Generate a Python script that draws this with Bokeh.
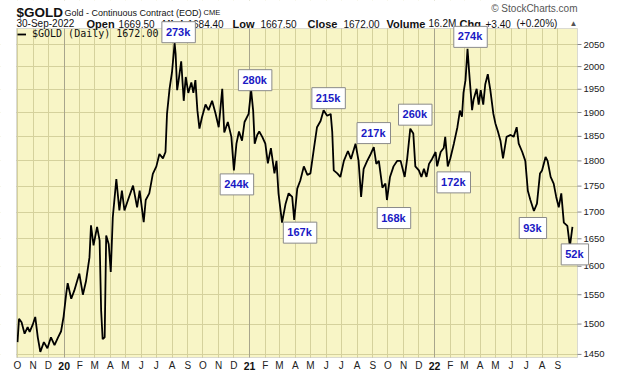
import math
import pandas as pd
from bokeh.plotting import figure
from bokeh.models import (Range1d, FixedTicker, Label, LabelSet, ColumnDataSource, Grid, BoxAnnotation)
from bokeh.core.properties import value
from bokeh.embed import file_html
from bokeh.resources import INLINE

# ---------------- data ----------------
dates = [
    "2019-10-01", "2019-10-04", "2019-10-09", "2019-10-15", "2019-10-21", "2019-10-25", "2019-10-31",
    "2019-11-05", "2019-11-10", "2019-11-15", "2019-11-22", "2019-11-29", "2019-12-06", "2019-12-13",
    "2019-12-20", "2019-12-26", "2019-12-31", "2020-01-05", "2020-01-08", "2020-01-15", "2020-01-21",
    "2020-01-31", "2020-02-07", "2020-02-13", "2020-02-20", "2020-02-23", "2020-02-28", "2020-03-06",
    "2020-03-11", "2020-03-14", "2020-03-17", "2020-03-21", "2020-03-24", "2020-03-29", "2020-04-02",
    "2020-04-06", "2020-04-13", "2020-04-19", "2020-04-24", "2020-04-29", "2020-05-06", "2020-05-16",
    "2020-05-24", "2020-05-29", "2020-06-06", "2020-06-10", "2020-06-17", "2020-06-24", "2020-07-01",
    "2020-07-07", "2020-07-14", "2020-07-19", "2020-07-22", "2020-07-27", "2020-08-01", "2020-08-06",
    "2020-08-08", "2020-08-11", "2020-08-14", "2020-08-19", "2020-08-24", "2020-08-28", "2020-09-02",
    "2020-09-08", "2020-09-12", "2020-09-16", "2020-09-20", "2020-09-24", "2020-09-29", "2020-10-06",
    "2020-10-12", "2020-10-19", "2020-10-26", "2020-11-01", "2020-11-08", "2020-11-12", "2020-11-19",
    "2020-11-26", "2020-12-01", "2020-12-06", "2020-12-11", "2020-12-17", "2020-12-22", "2020-12-30",
    "2021-01-04", "2021-01-08", "2021-01-11", "2021-01-16", "2021-01-20", "2021-01-26", "2021-02-01",
    "2021-02-06", "2021-02-12", "2021-02-19", "2021-02-23", "2021-02-27", "2021-03-06", "2021-03-13",
    "2021-03-19", "2021-03-26", "2021-03-30", "2021-04-05", "2021-04-11", "2021-04-18", "2021-04-25",
    "2021-05-01", "2021-05-08", "2021-05-14", "2021-05-21", "2021-05-27", "2021-06-03", "2021-06-10",
    "2021-06-13", "2021-06-16", "2021-06-23", "2021-06-29", "2021-07-06", "2021-07-14", "2021-07-20",
    "2021-07-29", "2021-08-04", "2021-08-09", "2021-08-14", "2021-08-21", "2021-08-28", "2021-09-03",
    "2021-09-08", "2021-09-13", "2021-09-20", "2021-09-26", "2021-09-29", "2021-10-05", "2021-10-12",
    "2021-10-19", "2021-10-26", "2021-11-03", "2021-11-08", "2021-11-14", "2021-11-20", "2021-11-24",
    "2021-12-01", "2021-12-06", "2021-12-11", "2021-12-16", "2021-12-21", "2021-12-27", "2022-01-03",
    "2022-01-06", "2022-01-13", "2022-01-19", "2022-01-22", "2022-01-27", "2022-02-01", "2022-02-08",
    "2022-02-15", "2022-02-20", "2022-02-24", "2022-02-27", "2022-03-03", "2022-03-07", "2022-03-10",
    "2022-03-16", "2022-03-19", "2022-03-25", "2022-03-29", "2022-04-02", "2022-04-07", "2022-04-11",
    "2022-04-16", "2022-04-21", "2022-04-27", "2022-05-01", "2022-05-06", "2022-05-11", "2022-05-16",
    "2022-05-23", "2022-05-31", "2022-06-06", "2022-06-12", "2022-06-16", "2022-06-23", "2022-06-29",
    "2022-07-04", "2022-07-09", "2022-07-16", "2022-07-22", "2022-07-28", "2022-08-01", "2022-08-08",
    "2022-08-12", "2022-08-18", "2022-08-24", "2022-08-29", "2022-09-03", "2022-09-08", "2022-09-13",
    "2022-09-20", "2022-09-25", "2022-09-30",
]
close = [
    1470, 1509, 1503, 1484, 1495, 1487, 1499,
    1512, 1478, 1454, 1470, 1460, 1478, 1465,
    1478, 1488, 1513, 1551, 1570, 1543, 1557,
    1587, 1550, 1573, 1616, 1675, 1638, 1672,
    1647, 1523, 1475, 1478, 1656, 1640, 1590,
    1690, 1764, 1703, 1741, 1703, 1723, 1751,
    1709, 1741, 1681, 1723, 1736, 1774, 1789,
    1814, 1805, 1818, 1897, 1951, 1989, 2053,
    2029, 1948, 1970, 2012, 1925, 1977, 1942,
    1965, 1942, 1970, 1904, 1866, 1890, 1917,
    1905, 1925, 1897, 1869, 1951, 1858, 1880,
    1849, 1781, 1835, 1860, 1841, 1880, 1897,
    1948, 1904, 1835, 1853, 1860, 1849, 1835,
    1795, 1826, 1775, 1800, 1736, 1680, 1716,
    1736, 1729, 1685, 1745, 1761, 1789, 1772,
    1775, 1826, 1869, 1882, 1905, 1893, 1897,
    1860, 1781, 1775, 1768, 1800, 1820, 1804,
    1835, 1800, 1729, 1784, 1800, 1814, 1828,
    1794, 1800, 1747, 1755, 1723, 1768, 1789,
    1800, 1800, 1768, 1805, 1866, 1856, 1789,
    1781, 1768, 1784, 1768, 1794, 1804, 1818,
    1789, 1818, 1826, 1849, 1789, 1805, 1835,
    1869, 1904, 1891, 1942, 1970, 2040, 1991,
    1905, 1928, 1951, 1917, 1948, 1917, 1961,
    1983, 1948, 1897, 1877, 1860, 1841, 1805,
    1849, 1853, 1849, 1869, 1835, 1818, 1800,
    1741, 1723, 1702, 1716, 1775, 1781, 1808,
    1800, 1768, 1755, 1729, 1709, 1736, 1680,
    1674, 1636, 1672,
]

# volume annotations at swing highs / lows
vol_dates = ["2020-08-06", "2021-01-04", "2020-12-01", "2021-05-27", "2021-03-06", "2021-09-03",
             "2021-11-14", "2021-09-29", "2022-01-27", "2022-03-07", "2022-07-16", "2022-09-25"]
vol_prices = [2053, 1948, 1781, 1905, 1680, 1828, 1866, 1723, 1789, 2040, 1702, 1636]
vol_texts = ["273k", "280k", "244k", "215k", "167k", "217k", "260k", "168k", "172k", "274k", "93k", "52k"]

# header texts
symbol = "$GOLD"
title_text = "Gold - Continuous Contract (EOD)"
exchange = "CME"
last_date = "30-Sep-2022"
quote_fields = ["Open", "High", "Low", "Close", "Volume", "Chg"]
quote_values = ["1669.50", "1684.40", "1667.50", "1672.00", "16.2M", "+3.40 (+0.20%)"]
y_ticks = [1450, 1500, 1550, 1600, 1650, 1700, 1750, 1800, 1850, 1900, 1950, 2000, 2050]

# ---------------- styling / layout (not data) ----------------
W, H = 620, 376
AREA_L, AREA_R, AREA_T, AREA_B = 16, 577, 28, 357      # price panel in canvas pixels
AREA_X0, AREA_X1 = pd.Timestamp("2019-09-29"), pd.Timestamp("2022-10-10")
AREA_Y0, AREA_Y1 = 1445.0, 2087.0
BG = "#f8f5c6"
GRID = "#d5d19c"
YEAR_GRID = "#a8a58c"
BOX_TEXT = "#1a1ac4"
TXT = "#111111"
# box centre offsets (px, right / down) relative to the annotated point
vol_offsets = [(4, -11), (4, -10), (3, 14), (5, -12), (18, 10), (0, -14),
               (5, -14), (7, 18), (6, 16), (3, -12), (-1, 17), (5, 8)]
ROW1, ROW2, COPY_Y = 12, 23, 8          # text baselines (canvas px, empirically aligned)
quote_field_x = [86, 162, 232, 307, 386, 459]
quote_value_x = [118, 187, 260, 343, 428, 485]
chg_pct_x = 516


def ms(t):
    return pd.Timestamp(t).value / 1e6


# extend the ranges so that the price panel lands on its pixel box while the frame fills the canvas
ms_per_px = (ms(AREA_X1) - ms(AREA_X0)) / (AREA_R - AREA_L)
x_start = ms(AREA_X0) - AREA_L * ms_per_px
x_end = ms(AREA_X1) + (W - AREA_R) * ms_per_px
k = math.log(AREA_Y1 / AREA_Y0) / (AREA_B - AREA_T)
y_lo = AREA_Y0 * math.exp(-(H - AREA_B) * k)
y_hi = AREA_Y1 * math.exp(AREA_T * k)

df = pd.DataFrame({"date": pd.to_datetime(dates), "close": close})
src = ColumnDataSource(df)

p = figure(width=W, height=H, title=None, x_axis_type="datetime", y_axis_type="log",
           x_axis_location=None, y_axis_location=None,
           x_range=Range1d(x_start, x_end), y_range=Range1d(y_lo, y_hi),
           output_backend="svg", toolbar_location=None, min_border=0,
           background_fill_color="white", border_fill_color="white", outline_line_color=None)
p.xgrid.visible = False
p.ygrid.visible = False

month_starts = pd.date_range(df["date"].min().normalize().replace(day=1), df["date"].max(), freq="MS")
month_ms = [ms(t) for t in month_starts]
year_starts = [t for t in month_starts if t.month == 1]
year_ms = [ms(t) for t in year_starts]
other_months = [t for t in month_starts if t.month != 1]

# price panel background
p.add_layout(BoxAnnotation(left=ms(AREA_X0), right=ms(AREA_X1), bottom=AREA_Y0, top=AREA_Y1,
                           fill_color=BG, fill_alpha=1, line_color=None, level="image"))
# grids
p.add_layout(Grid(dimension=0, ticker=FixedTicker(ticks=month_ms), grid_line_color=GRID))
p.add_layout(Grid(dimension=1, ticker=FixedTicker(ticks=y_ticks), grid_line_color=GRID))
p.add_layout(Grid(dimension=0, ticker=FixedTicker(ticks=year_ms), grid_line_color=YEAR_GRID))
# white masks so the grid stays inside the price panel
mask = dict(fill_color="white", fill_alpha=1, line_color=None, level="glyph")
p.add_layout(BoxAnnotation(bottom=AREA_Y1, **mask))
p.add_layout(BoxAnnotation(top=AREA_Y0, **mask))
p.add_layout(BoxAnnotation(right=ms(AREA_X0), **mask))
p.add_layout(BoxAnnotation(left=ms(AREA_X1), **mask))
# panel border
p.add_layout(BoxAnnotation(left=ms(AREA_X0), right=ms(AREA_X1), bottom=AREA_Y0, top=AREA_Y1,
                           fill_alpha=0, line_color="#8c8c8c", line_width=1, level="guide"))

# price line
p.line("date", "close", source=src, line_color="black", line_width=1.8,
       legend_label=f"{symbol} (Daily) {close[-1]:.2f}")
lg = p.legend[0]
lg.location = (AREA_L, H - AREA_T - 12)
lg.margin = 0
lg.padding = 1
lg.spacing = 0
lg.glyph_width = 9
lg.glyph_height = 10
lg.label_height = 10
lg.label_standoff = 6
lg.label_text_font = "DejaVu Sans Mono"
lg.label_text_font_size = "10px"
lg.label_text_color = TXT
lg.background_fill_alpha = 0
lg.border_line_alpha = 0

# right price scale: ticks + labels
p.segment(x0=ms(AREA_X1), x1=ms(AREA_X1) + 4 * ms_per_px, y0=y_ticks, y1=y_ticks,
          line_color="#888888", line_width=1, level="guide")
ysrc = ColumnDataSource(dict(y=y_ticks, t=[str(v) for v in y_ticks]))
p.add_layout(LabelSet(x=AREA_R + 6, x_units="screen", y="y", text="t", source=ysrc,
                      text_align="left", text_baseline="middle",
                      text_font=value("Liberation Sans"), text_font_size=value("9.5px"),
                      text_color="#222222"))

# time scale: month initials + bold year numbers
msrc = ColumnDataSource(dict(x=[ms(t) for t in other_months],
                             t=["JFMAMJJASOND"[t.month - 1] for t in other_months]))
p.add_layout(LabelSet(x="x", y=H - 365, y_units="screen", text="t", source=msrc,
                      text_align="center", text_baseline="middle",
                      text_font=value("Liberation Sans"), text_font_size=value("10px"),
                      text_color="#222222"))
ysrc2 = ColumnDataSource(dict(x=year_ms, t=[f"{t.year % 100:02d}" for t in year_starts]))
p.add_layout(LabelSet(x="x", y=H - 365, y_units="screen", text="t", source=ysrc2,
                      text_align="center", text_baseline="middle",
                      text_font=value("Liberation Sans"), text_font_size=value("10.5px"),
                      text_font_style="bold", text_color=TXT))


def canvas_label(text, cx, cy, **style):
    """Text at canvas pixel (cx, cy) measured from the top-left corner."""
    return Label(x=cx, y=H - cy, x_units="screen", y_units="screen",
                 text=text, text_baseline="alphabetic", **style)


hdr_font = "Liberation Sans"
p.add_layout(canvas_label(symbol, 16, ROW1, text_font=hdr_font,
                          text_font_size="13.5px", text_font_style="bold", text_color=TXT))
p.add_layout(canvas_label(title_text, 64, ROW1, text_font=hdr_font,
                          text_font_size="9px", text_color=TXT))
p.add_layout(canvas_label(exchange, 203, ROW1, text_font=hdr_font,
                          text_font_size="7.5px", text_color=TXT))
p.add_layout(canvas_label(last_date, 16, ROW2, text_font=hdr_font,
                          text_font_size="10px", text_color=TXT))
for f, fx, v, vx in zip(quote_fields, quote_field_x, quote_values, quote_value_x):
    p.add_layout(canvas_label(f, fx, ROW2, text_font=hdr_font, text_font_size="11px",
                              text_font_style="bold", text_color=TXT))
    parts = v.split(" ")
    p.add_layout(canvas_label(parts[0], vx, ROW2, text_font=hdr_font, text_font_size="10px",
                              text_color=TXT))
    if len(parts) > 1:
        p.add_layout(canvas_label(parts[1], chg_pct_x, ROW2, text_font=hdr_font,
                                  text_font_size="10px", text_color=TXT))
p.add_layout(canvas_label("\u25b2", 569, ROW2, text_font=hdr_font, text_font_size="8px",
                          text_color="#555555"))
p.add_layout(canvas_label("\u00a9 StockCharts.com", AREA_R, COPY_Y, text_align="right",
                          text_font=hdr_font, text_font_size="10px", text_color="#555555"))

# volume boxes (drawn last, they sit on top of everything)
for d, pr, t, (dx, dy) in zip(vol_dates, vol_prices, vol_texts, vol_offsets):
    common = dict(x=ms(d), y=pr, text=t, text_align="center", text_baseline="middle",
                  text_font="Liberation Sans", text_font_size="11px", text_font_style="bold",
                  padding=(4, 5, 4, 5))
    p.add_layout(Label(x_offset=dx + 2, y_offset=-dy - 2, text_alpha=0,
                       background_fill_color="#9a9a9a", background_fill_alpha=0.7, **common))
    p.add_layout(Label(x_offset=dx, y_offset=-dy, text_color=BOX_TEXT,
                       background_fill_color="white", border_line_color="#8a8a8a", **common))

open("out.html", "w").write(file_html(p, INLINE))
